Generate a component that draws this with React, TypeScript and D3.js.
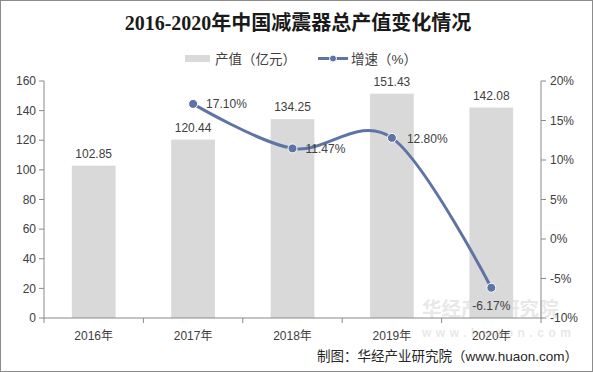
import * as d3 from "d3";

const years = ["2016年", "2017年", "2018年", "2019年", "2020年"];
const output = [102.85, 120.44, 134.25, 151.43, 142.08];
const growth: (number | null)[] = [null, 17.1, 11.47, 12.8, -6.17];
const leftTicks = [0, 20, 40, 60, 80, 100, 120, 140, 160];
const rightTicks = [-10, -5, 0, 5, 10, 15, 20];

const W = 593;
const H = 372;
const plot = { left: 44, right: 541, top: 81, bottom: 318 };
const BAR = "#d9d9d9";
const LINE = "#5e74a4";
const AXIS = "#898989";
const TXT = "#404040";
const FONT = "'Liberation Sans', Arial, 'Noto Sans CJK SC', sans-serif";

export default function App() {
  const x = d3
    .scaleBand<string>()
    .domain(years)
    .range([plot.left, plot.right])
    .paddingInner(0.56)
    .paddingOuter(0.28);
  const yL = d3.scaleLinear().domain([0, 160]).range([plot.bottom, plot.top]);
  const yR = d3.scaleLinear().domain([-10, 20]).range([plot.bottom, plot.top]);
  const cx = (d: string) => (x(d) ?? 0) + x.bandwidth() / 2;

  const pts = years
    .map((d, i) => ({ d, v: growth[i] }))
    .filter((p) => p.v !== null) as { d: string; v: number }[];

  const line = d3
    .line<{ d: string; v: number }>()
    .x((p) => cx(p.d))
    .y((p) => yR(p.v))
    .curve(d3.curveCatmullRom.alpha(0));

  const step = x.step();
  const bounds = d3.range(years.length + 1).map((i) => plot.left + i * step);

  // label offsets for growth values
  const labelPos = [
    null,
    { dx: 13, dy: 4, anchor: "start" },
    { dx: 13, dy: 5, anchor: "start" },
    { dx: 15, dy: 5, anchor: "start" },
    { dx: 0, dy: 22, anchor: "middle" },
  ];

  return (
    <svg
      width={W}
      height={H}
      style={{ position: "absolute", left: 0, top: 0, background: "#fff" }}
      fontFamily={FONT}
    >
      <rect x={0.5} y={0.5} width={W - 1} height={H - 1} fill="#fff" stroke="#8c8c8c" />

      <text
        x={298}
        y={30}
        textAnchor="middle"
        fontSize={20}
        fontWeight="bold"
        fill="#1a1a1a"
        fontFamily="'Liberation Serif', 'Noto Sans CJK SC', serif"
      >
        2016-2020年中国减震器总产值变化情况
      </text>

      {/* legend */}
      <rect x={185} y={55} width={25} height={7} fill={BAR} />
      <text x={215} y={64} fontSize={13.5} fill={TXT}>产值（亿元）</text>
      <line x1={318} x2={348} y1={58.5} y2={58.5} stroke={LINE} strokeWidth={3} />
      <circle cx={333} cy={58.5} r={3.5} fill={LINE} stroke="#fff" strokeWidth={1} />
      <text x={351} y={64} fontSize={13.5} fill={TXT}>增速（%）</text>

      {/* watermark */}
      <g opacity={0.22}>
        <rect x={381} y={286} width={14} height={30} fill="#7fa6d6" />
        <rect x={395} y={286} width={14} height={30} fill="#e3cf86" />
        <text x={422} y={316} fontSize={19.5} fontWeight="bold" fill="#9a9a9a">华经产业研究院</text>
        <text x={422} y={337} fontSize={12} fontWeight="bold" fill="#9a9a9a" letterSpacing={4.5}>
          www.huaon.com
        </text>
      </g>

      {/* bars */}
      {years.map((d, i) => (
        <rect
          key={d}
          x={x(d)}
          y={yL(output[i])}
          width={x.bandwidth()}
          height={plot.bottom - yL(output[i])}
          fill={BAR}
        />
      ))}
      {years.map((d, i) => (
        <text
          key={d}
          x={cx(d)}
          y={yL(output[i]) - 8}
          textAnchor="middle"
          fontSize={12}
          fill={TXT}
        >
          {output[i].toFixed(2)}
        </text>
      ))}

      {/* axes */}
      <line x1={plot.left} x2={plot.left} y1={plot.top} y2={plot.bottom} stroke={AXIS} />
      <line x1={plot.right} x2={plot.right} y1={plot.top} y2={plot.bottom} stroke={AXIS} />
      <line x1={plot.left} x2={plot.right} y1={plot.bottom} y2={plot.bottom} stroke={AXIS} />
      {leftTicks.map((t) => (
        <g key={t} transform={`translate(0,${yL(t)})`}>
          <line x1={plot.left - 5} x2={plot.left} stroke={AXIS} />
          <text x={plot.left - 8} dy="0.35em" textAnchor="end" fontSize={12} fill={TXT}>
            {t}
          </text>
        </g>
      ))}
      {rightTicks.map((t) => (
        <g key={t} transform={`translate(0,${yR(t)})`}>
          <line x1={plot.right} x2={plot.right + 5} stroke={AXIS} />
          <text x={plot.right + 9} dy="0.35em" textAnchor="start" fontSize={12} fill={TXT}>
            {t}%
          </text>
        </g>
      ))}
      {bounds.map((b, i) => (
        <line key={i} x1={b} x2={b} y1={plot.bottom} y2={plot.bottom + 5} stroke={AXIS} />
      ))}
      {years.map((d) => (
        <text key={d} x={cx(d)} y={plot.bottom + 22} textAnchor="middle" fontSize={12} fill={TXT}>
          {d}
        </text>
      ))}

      {/* growth line */}
      <path d={line(pts) ?? ""} fill="none" stroke={LINE} strokeWidth={3} />
      {pts.map((p) => (
        <circle key={p.d} cx={cx(p.d)} cy={yR(p.v)} r={4.5} fill={LINE} stroke="#fff" strokeWidth={1} />
      ))}
      {years.map((d, i) => {
        const v = growth[i];
        const lp = labelPos[i];
        if (v === null || !lp) return null;
        return (
          <text
            key={d}
            x={cx(d) + lp.dx}
            y={yR(v) + lp.dy}
            textAnchor={lp.anchor}
            fontSize={12}
            fill={TXT}
          >
            {v.toFixed(2)}%
          </text>
        );
      })}

      <text x={578} y={361} textAnchor="end" fontSize={13.5} fill="#262626">
        制图：华经产业研究院（www.huaon.com）
      </text>
    </svg>
  );
}
